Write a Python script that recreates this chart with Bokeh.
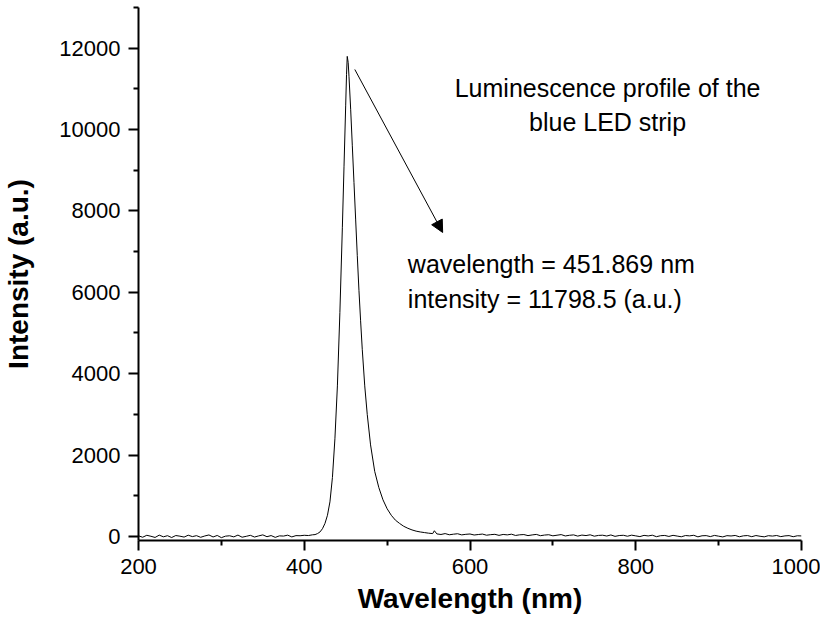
from bokeh.plotting import figure
from bokeh.models import Range1d, Arrow, NormalHead, FixedTicker
from bokeh.embed import file_html
from bokeh.resources import INLINE
from bokeh.core.properties import value

# ---------------- data ----------------
x_ticks = [200, 400, 600, 800, 1000]
x_minor = [300, 500, 700, 900]
y_ticks = [0, 2000, 4000, 6000, 8000, 10000, 12000]
y_minor = [1000, 3000, 5000, 7000, 9000, 11000, 13000]

base_left_wl = list(range(200, 415, 5))
base_left_int = [15, -20, 28, 4, -25, 32, -9, 18, -27, 22,
                 6, -16, 30, -4, 19, -21, 11, 36, -13, 24,
                 -30, 7, 16, -11, 33, -19, 3, 27, -15, 13,
                 38, -7, 21, -23, 14, 9, 31, -12, 20, 17,
                 28, 22, 40]

peak_wl = [413, 416, 419, 422, 425, 428, 431, 434, 437, 440,
           443, 446, 448, 450, 451, 451.869, 453, 454, 456, 458,
           460, 462, 464, 466, 468, 470, 473, 476, 480, 485,
           490, 495, 500, 505, 510, 515, 520, 525, 530, 535,
           540, 545, 550, 555, 557]
peak_int = [45, 70, 110, 190, 320, 520, 850, 1450, 2400, 3700,
            5500, 7600, 9100, 10600, 11350, 11798.5, 11650, 11300, 10500, 9600,
            8700, 7800, 6900, 6050, 5300, 4600, 3700, 3000, 2250, 1600,
            1200, 900, 680, 520, 400, 320, 250, 200, 160, 130,
            110, 95, 80, 70, 140]

base_right_wl = list(range(560, 1005, 5))
base_right_int = [62, 48, 70, 41, 55, 66, 38, 52, 60, 35,
                  47, 58, 30, 44, 52, 26, 49, 38, 55, 24,
                  40, 46, 20, 37, 50, 18, 34, 42, 15, 30,
                  45, 12, 28, 38, 8, 33, 21, 40, 6, 25,
                  30, 10, 36, 2, 22, 28, 5, 31, 14, -4,
                  26, 12, 30, -6, 18, 24, 0, 27, 9, -8,
                  22, 14, 28, -10, 16, 20, -4, 25, 6, -12,
                  19, 11, 24, -8, 15, 21, -6, 22, 4, -10,
                  18, 9, 23, -5, 13, 20, -7, 16, 12]

wavelength = base_left_wl + peak_wl + base_right_wl
intensity = base_left_int + peak_int + base_right_int

title_lines = ["Luminescence profile of the", "blue LED strip"]
info_lines = ["wavelength = 451.869 nm", "intensity = 11798.5 (a.u.)"]

# annotation anchors (data coordinates)
title_x = 766
title_y = [11010, 10174]
info_x = 525
info_y = [6684, 5824]
arrow_start = (461, 11477)
arrow_end = (567, 7471)

FONT = "Liberation Sans"

# ---------------- figure ----------------
p = figure(width=820, height=617, output_backend="svg", toolbar_location=None,
           x_range=Range1d(200, 1000), y_range=Range1d(-100, 13000),
           min_border_left=137, min_border_right=19, min_border_top=7,
           min_border_bottom=77)
p.outline_line_color = None
p.grid.visible = False

for ax in (p.xaxis[0], p.yaxis[0]):
    ax.axis_line_width = 2
    ax.axis_line_color = "black"
    ax.major_tick_line_width = 2
    ax.minor_tick_line_width = 2
    ax.major_tick_line_color = "black"
    ax.minor_tick_line_color = "black"
    ax.major_tick_out = 10
    ax.major_tick_in = 0
    ax.minor_tick_out = 5
    ax.minor_tick_in = 0
    ax.major_label_text_font = FONT
    ax.major_label_text_font_size = "22px"
    ax.major_label_text_color = "black"
    ax.axis_label_text_font = FONT
    ax.axis_label_text_font_size = "28px"
    ax.axis_label_text_font_style = "bold"
    ax.axis_label_text_color = "black"

p.xaxis.ticker = FixedTicker(ticks=x_ticks, minor_ticks=x_minor)
p.yaxis.ticker = FixedTicker(ticks=y_ticks, minor_ticks=y_minor)
p.xaxis.axis_label = "Wavelength (nm)"
p.yaxis.axis_label = "Intensity (a.u.)"
p.xaxis.major_label_standoff = 8
p.yaxis.major_label_standoff = 8
p.xaxis.axis_label_standoff = 6
p.yaxis.axis_label_standoff = 22

p.line(wavelength, intensity, line_color="black", line_width=1)

p.text(x=[title_x, title_x], y=title_y, text=title_lines,
       text_font=value(FONT), text_font_size="25px", text_color="black",
       text_align="center", text_baseline="middle")
p.text(x=[info_x, info_x], y=info_y, text=info_lines,
       text_font=value(FONT), text_font_size="25px", text_color="black",
       text_align="left", text_baseline="middle")

p.add_layout(Arrow(end=NormalHead(size=12, fill_color="black", line_color="black",
                                  line_width=1),
                   x_start=arrow_start[0], y_start=arrow_start[1],
                   x_end=arrow_end[0], y_end=arrow_end[1],
                   line_color="black", line_width=1))

open("out.html", "w").write(file_html(p, INLINE))
